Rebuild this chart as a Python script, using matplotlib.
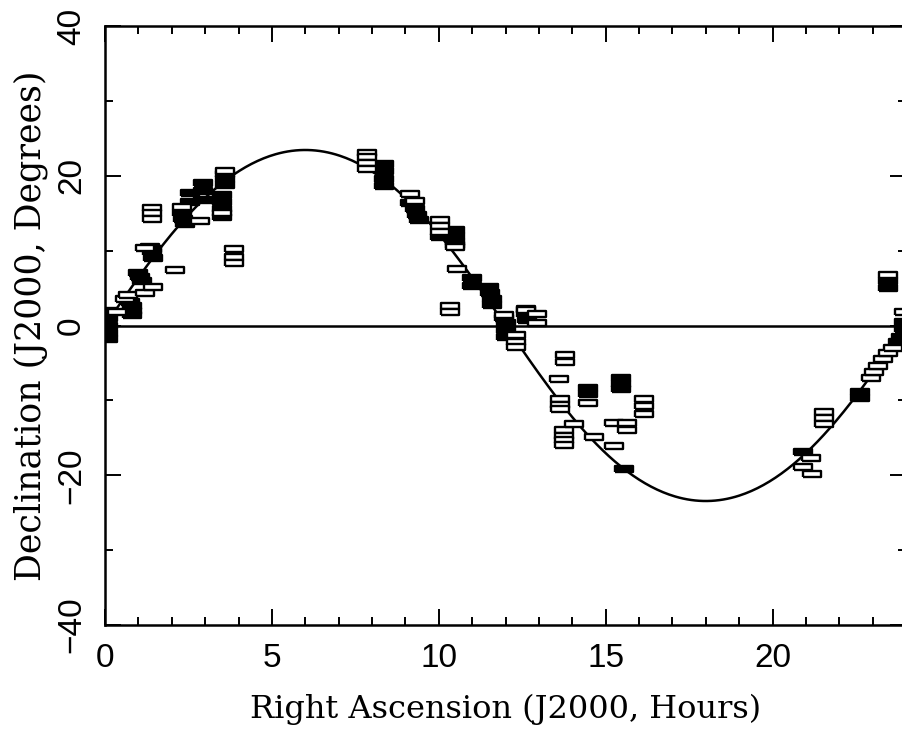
#! /usr/bin/env python

# Sky positions of targets in RA/Dec, with the ecliptic and the celestial equator

import numpy
import matplotlib
matplotlib.use( "Agg" )
import matplotlib.pyplot as plt
from matplotlib.ticker import MultipleLocator

# Obliquity of the ecliptic (degrees)
Obliquity = 23.44

# Single (open) observations : RA (hours), Dec (degrees)
RaOpen = [ 0.35, 0.6, 0.7, 1.21, 1.45, 1.2, 2.1, 1.4, 1.4, 1.4, 2.3, 2.85,
           3.6, 3.5, 3.87, 3.87, 3.87,
           7.86, 7.86, 7.86, 7.86, 9.15, 9.3, 10.05, 10.05, 10.05, 10.5,
           10.55, 10.35, 10.35, 12.6, 12.95, 12.95, 11.95, 12.3, 12.3, 12.3,
           13.77, 13.77, 13.6, 13.63, 13.63, 13.63, 13.74, 13.74, 13.74, 13.74,
           14.04, 14.46, 14.65, 15.24, 15.24, 15.63, 15.63, 16.14, 16.14, 16.14,
           21.53, 21.53, 21.53, 21.14, 20.9, 21.17,
           23.47, 22.95, 23.05, 23.15, 23.3, 23.45, 23.6, 23.95 ]
DecOpen = [ 1.8, 3.6, 4.1, 4.3, 5.1, 10.3, 7.4, 15.7, 15.0, 14.2, 15.8, 14.0,
            20.7, 15.0, 10.2, 9.2, 8.3,
            23.0, 22.5, 21.7, 20.9, 17.5, 16.6, 14.1, 13.3, 12.5, 10.5,
            7.6, 2.6, 1.8, 2.1, 1.5, 0.3, 1.4, -1.3, -2.2, -2.9,
            -3.9, -4.9, -7.2, -9.8, -10.6, -11.2, -14.0, -14.8, -15.3, -16.0,
            -13.2, -10.4, -14.9, -16.1, -13.0, -13.0, -13.9, -9.8, -10.8, -11.8,
            -11.5, -12.4, -13.1, -17.7, -18.9, -19.8,
            6.7, -7.0, -6.2, -5.4, -4.5, -3.7, -3.0, 1.8 ]

# Heavily stacked observations : RA (hours), Dec (degrees)
RaDense = [ 0.1, 0.1, 0.1, 0.1, 0.1, 0.8, 0.8, 0.8, 0.75,
            1.0, 1.05, 1.1, 1.35, 1.4, 1.45, 1.4,
            2.3, 2.35, 2.4, 2.55, 2.55, 2.95, 2.95, 2.95,
            3.5, 3.5, 3.5, 3.5, 3.6, 3.6, 3.6,
            8.35, 8.35, 8.35, 8.35, 9.15, 9.3, 9.35, 9.4,
            10.05, 10.5, 10.5, 10.5, 10.5, 11.0, 11.0,
            11.5, 11.55, 11.6, 11.6, 11.95, 12.0, 12.0, 12.0,
            12.6, 12.6, 12.65, 14.46, 14.46, 15.45, 15.45, 15.45, 15.54,
            20.9, 22.63, 22.63, 23.47, 23.47,
            23.75, 23.85, 23.95, 23.95 ]
DecDense = [ 2.0, 1.0, 0.0, -1.0, -1.8, 2.6, 1.9, 1.4, 3.2,
             7.0, 6.5, 6.0, 10.5, 9.8, 9.0, 10.2,
             15.0, 14.2, 13.5, 17.7, 16.5, 19.0, 18.0, 16.8,
             17.4, 16.5, 15.5, 14.5, 20.2, 19.5, 18.7,
             21.6, 20.6, 19.6, 18.6, 16.3, 15.5, 14.8, 14.1,
             11.8, 12.7, 12.0, 11.2, 10.8, 6.3, 5.3,
             5.2, 4.3, 3.5, 2.8, 1.0, 0.3, -0.6, -1.5,
             2.2, 1.5, 0.8, -8.3, -9.2, -7.0, -7.8, -8.5, -19.2,
             -16.9, -8.9, -9.7, 6.0, 5.0,
             -2.2, -1.5, 0.5, -0.5 ]

# Hour-angle grid for the ecliptic
RaLine = numpy.linspace( 0, 24, 400 )
DecLine = numpy.degrees( numpy.arctan( numpy.tan( numpy.radians( Obliquity ) ) *
                                       numpy.sin( numpy.radians( RaLine * 15 ) ) ) )

# Flat rectangle marker
Box = [ ( -0.5, -0.16 ), ( 0.5, -0.16 ), ( 0.5, 0.16 ), ( -0.5, 0.16 ), ( -0.5, -0.16 ) ]

fig = plt.figure( figsize=( 9.02, 7.49 ), dpi=100 )
ax = fig.add_axes( [ 105 / 902, 124 / 749, 801 / 902, 599 / 749 ] )

ax.plot( RaLine, DecLine, color="black", lw=1.8, zorder=2 )
ax.plot( [ 0, 24 ], [ 0, 0 ], color="black", lw=1.8, zorder=2 )

ax.plot( RaDense, DecDense, ls="none", marker=Box, markersize=12.3,
         markerfacecolor="black", markeredgecolor="black", markeredgewidth=1.7, zorder=3 )
ax.plot( RaOpen, DecOpen, ls="none", marker=Box, markersize=12.3,
         markerfacecolor="white", markeredgecolor="black", markeredgewidth=1.7, zorder=4 )

ax.set_xlim( 0, 24 )
ax.set_ylim( -40, 40 )
ax.xaxis.set_major_locator( MultipleLocator( 5 ) )
ax.xaxis.set_minor_locator( MultipleLocator( 1 ) )
ax.yaxis.set_major_locator( MultipleLocator( 20 ) )
ax.yaxis.set_minor_locator( MultipleLocator( 10 ) )
ax.tick_params( which="both", direction="in", top=True, right=True, width=1.4 )
ax.tick_params( which="major", length=11.5 )
ax.tick_params( which="minor", length=5.8 )
ax.tick_params( axis="x", pad=13, labelsize=24 )
ax.tick_params( axis="y", pad=13, labelsize=24 )
for Label in ax.get_xticklabels() + ax.get_yticklabels() :
   Label.set_fontfamily( "Liberation Sans" )
for Label in ax.get_yticklabels() :
   Label.set_rotation( 90 )
   Label.set_va( "center" )
for Spine in ax.spines.values() :
   Spine.set_linewidth( 1.8 )

ax.set_xlabel( "Right Ascension (J2000, Hours)", family="DejaVu Serif", fontsize=23, labelpad=14 )
ax.set_ylabel( "Declination (J2000, Degrees)", family="DejaVu Serif", fontsize=25, labelpad=6 )

fig.savefig( "out.png", dpi=100 )
